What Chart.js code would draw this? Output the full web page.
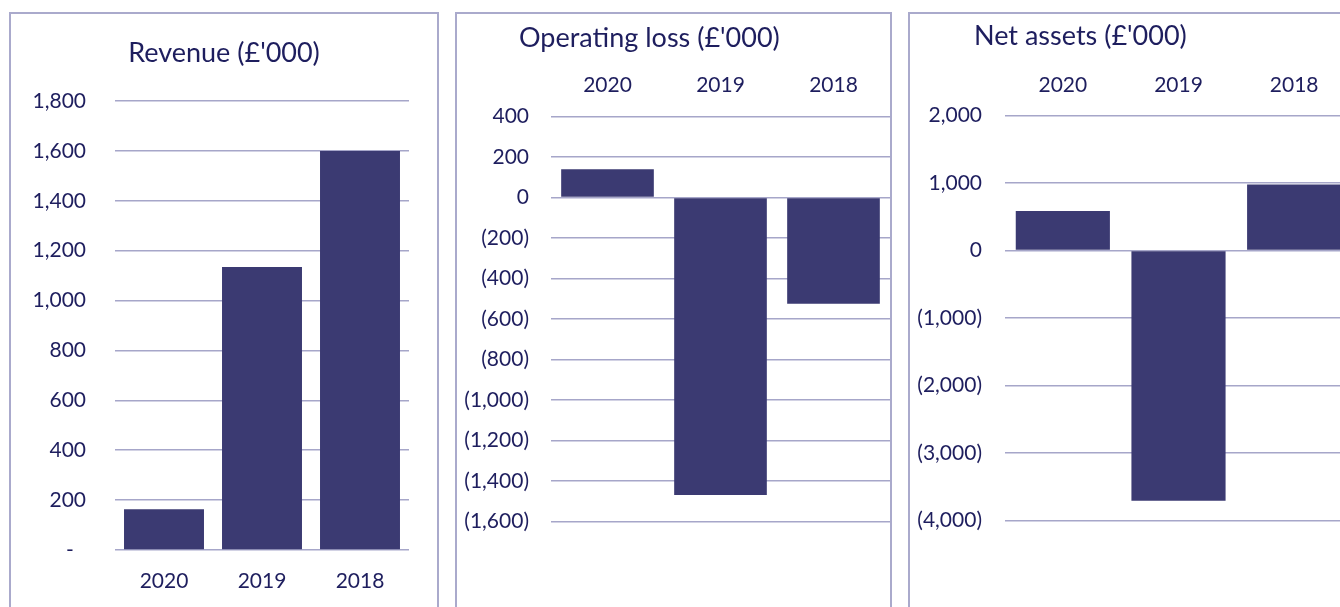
<!DOCTYPE html>
<html>
<head>
<meta charset="utf-8">
<script src="https://cdn.jsdelivr.net/npm/chart.js@4"></script>
<style>
  html, body { margin: 0; padding: 0; background: #fff; width: 1340px; height: 607px; overflow: hidden; }
  .panel { position: absolute; top: 12px; height: 620px; border: 2px solid #aaaacc; box-sizing: content-box; }
  .panel canvas { position: absolute; left: 0; top: 0; }
  .title { position: absolute; font-family: Lato, sans-serif; font-size: 27px; color: #1e1e5e; white-space: nowrap; line-height: 30px; }
</style>
</head>
<body>
<div class="panel" id="p1" style="left:9px;width:426px;"><canvas id="revenueChart"></canvas></div>
<div class="panel" id="p2" style="left:455px;width:433px;"><canvas id="lossChart"></canvas></div>
<div class="panel" id="p3" style="left:908px;width:442px;"><canvas id="assetsChart"></canvas></div>
<div class="title" style="left:224px;top:37px;transform:translateX(-50%);">Revenue (£'000)</div>
<div class="title" style="left:519px;top:22px;">Operating loss (£'000)</div>
<div class="title" style="left:974px;top:20px;">Net assets (£'000)</div>
<script>
  const years = ["2020", "2019", "2018"];
  const revenue = [163, 1135, 1600];
  const operatingLoss = [140, -1470, -525];
  const netAssets = [585, -3710, 980];

  const revenueTicks = [0, 1800, 200];
  const lossTicks = [-1600, 400, 200];
  const assetsTicks = [-4000, 2000, 1000];

  const barColour = "#3b3a72";
  const gridColour = "#a6a6c9";
  const textColour = "#1e1e5e";
  const tickFont = { family: "Lato", size: 21 };

  function fmt(v) {
    if (v < 0) return "(" + Math.abs(v).toLocaleString("en-US") + ")";
    return v.toLocaleString("en-US");
  }

  function makeChart(id, w, h, values, range, opts) {
    const canvas = document.getElementById(id);
    canvas.width = w;
    canvas.height = h;
    canvas.style.width = w + "px";
    canvas.style.height = h + "px";
    return new Chart(canvas.getContext("2d"), {
      type: "bar",
      data: {
        labels: years,
        datasets: [{
          data: values,
          backgroundColor: barColour,
          borderWidth: 0,
          barPercentage: opts.barPct,
          categoryPercentage: 1
        }]
      },
      options: {
        responsive: false,
        animation: false,
        layout: { padding: opts.padding },
        plugins: { legend: { display: false }, tooltip: { enabled: false } },
        scales: {
          x: {
            position: opts.xPos,
            grid: { display: false, drawTicks: false },
            border: { display: false },
            ticks: { color: textColour, font: tickFont, padding: opts.xPad },
            afterFit: s => { s.height = opts.xH; }
          },
          y: {
            min: range[0],
            max: range[1],
            grid: { color: gridColour, lineWidth: 1.5, drawTicks: false },
            border: { display: false },
            ticks: {
              stepSize: range[2],
              color: textColour,
              font: tickFont,
              padding: opts.yPad,
              callback: opts.zeroDash ? (v => v === 0 ? "-\u2007" : fmt(v)) : fmt
            },
            afterFit: s => { s.width = opts.yW; }
          }
        }
      }
    });
  }

  makeChart("revenueChart", 426, 593, revenue, revenueTicks, {
    padding: { top: 87, right: 28, bottom: 0, left: 0 },
    xPos: "bottom", xH: 57, xPad: 19, yW: 104, yPad: 29, barPct: 0.816, zeroDash: true
  });

  makeChart("lossChart", 433, 593, operatingLoss, lossTicks, {
    padding: { top: 62.7, right: 0, bottom: 85.7, left: 0 },
    xPos: "top", xH: 40, xPad: 19, yW: 94, yPad: 22, barPct: 0.82, zeroDash: false
  });

  makeChart("assetsChart", 442, 593, netAssets, assetsTicks, {
    padding: { top: 61.7, right: 0, bottom: 86.7, left: 0 },
    xPos: "top", xH: 40, xPad: 18, yW: 95, yPad: 23, barPct: 0.814, zeroDash: false
  });
</script>
</body>
</html>
